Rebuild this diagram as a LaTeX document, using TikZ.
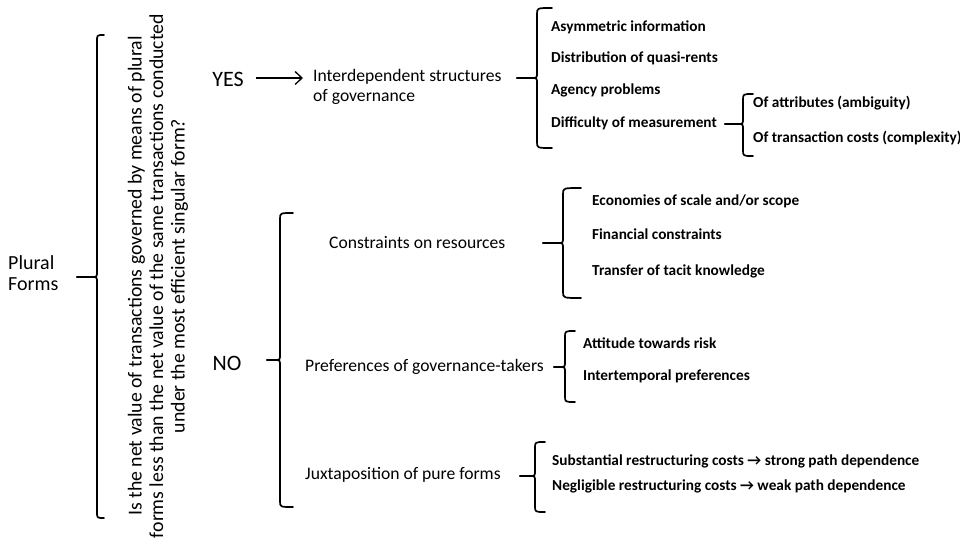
\documentclass[tikz,border=0pt]{standalone}
\usepackage{fontspec}
\setmainfont{Carlito}
\usetikzlibrary{arrows.meta}
\tikzset{
  bigtext/.style={font=\fontsize{20}{21}\selectfont, inner sep=0pt},
  qtext/.style={font=\fontsize{19.8}{21.5}\selectfont, inner sep=0pt},
  yntext/.style={font=\fontsize{22}{26}\selectfont, inner sep=0pt},
  midtext/.style={font=\fontsize{17.6}{20}\selectfont, inner sep=0pt, anchor=west, align=left},
  smalltext/.style={font=\fontsize{15.3}{17}\selectfont\bfseries, inner sep=0pt, anchor=west, text height=11pt, text depth=3.5pt},
  bracestyle/.style={line width=1.7pt, line join=round, line cap=round},
}
% x, top, bottom, tip y, tip x, hook length
\newcommand\curlyb[6]{%
  \draw[bracestyle] (#1+#6,#2) .. controls (#1,#2) .. (#1,#2+6) -- (#1,#4-6) .. controls (#1,#4) .. (#1-5,#4) -- (#5,#4);
  \draw[bracestyle] (#5,#4) -- (#1-5,#4) .. controls (#1,#4) .. (#1,#4+6) -- (#1,#3-6) .. controls (#1,#3) .. (#1+#6,#3);
}
\begin{document}
\begin{tikzpicture}[x=1pt,y=-1pt]
\clip (0,0) rectangle (960,543);
\fill[white] (0,0) rectangle (960,543);

% root
\node[bigtext, align=left, anchor=west] (plural) at (8,273) {Plural\\Forms};
\curlyb{97}{35}{518}{277}{77}{7}

% question
\node[qtext, rotate=90, align=center] (question) at (158,276)
  {Is the net value of transactions governed by means of plural\\forms less than the net value of the same transactions conducted\\under the most efficient singular form?};

% YES branch
\node[yntext] (yes) at (228,79) {YES};
\node[midtext] (inter) at (313,87) {Interdependent structures\\of governance};
\coordinate (yesa) at ([xshift=12pt]yes.east |- 0,78);
\coordinate (yesb) at ([xshift=-10pt]inter.west |- 0,78);
\draw[line width=1.3pt, -{Straight Barb[length=7pt,width=13pt]}] (yesa) -- (yesb);
\curlyb{537}{8}{148}{78}{517}{15}
\node[smalltext] (asym) at (551,28) {Asymmetric information};
\node[smalltext] (dist) at (551,59) {Distribution of quasi-rents};
\node[smalltext] (agency) at (551,91) {Agency problems};
\node[smalltext] (diff) at (551,124) {Difficulty of measurement};
\curlyb{743}{94}{156}{124}{725}{10}
\node[smalltext] (attr) at (753,104) {Of attributes (ambiguity)};
\node[smalltext] (tcost) at (753,139) {Of transaction costs (complexity)};

% NO branch
\node[yntext] (no) at (227,363) {NO};
\curlyb{280}{213}{507}{360}{267}{13}

\node[midtext] (constr) at (329,243) {Constraints on resources};
\curlyb{563}{188}{298}{243}{543}{18}
\node[smalltext] (econ) at (592,202) {Economies of scale and/or scope};
\node[smalltext] (fin) at (592,236) {Financial constraints};
\node[smalltext] (tacit) at (592,272) {Transfer of tacit knowledge};

\node[midtext] (pref) at (305,367) {Preferences of governance-takers};
\curlyb{565}{331}{402}{367}{554}{10}
\node[smalltext] (risk) at (583,345) {Attitude towards risk};
\node[smalltext] (inter2) at (583,377) {Intertemporal preferences};

\node[midtext] (juxt) at (305,475) {Juxtaposition of pure forms};
\curlyb{535}{442}{512}{476}{520}{10}
\node[smalltext] (subst) at (552,462) {Substantial restructuring costs → strong path dependence};
\node[smalltext] (negl) at (552,487) {Negligible restructuring costs → weak path dependence};
\end{tikzpicture}
\end{document}
